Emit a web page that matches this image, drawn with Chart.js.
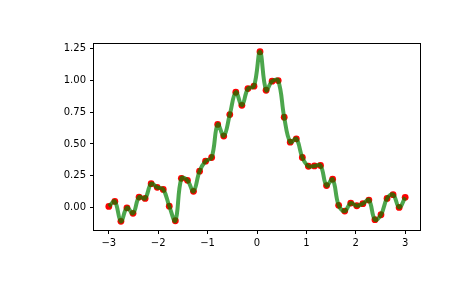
<!DOCTYPE html>
<html>
<head>
<meta charset="utf-8">
<script src="https://cdn.jsdelivr.net/npm/chart.js@4/dist/chart.umd.min.js"></script>
<style>
  html, body { margin: 0; padding: 0; background: #fff; }
  #wrap { width: 465px; height: 288px; }
</style>
</head>
<body>
<div id="wrap"><canvas id="grafico" width="465" height="288"></canvas></div>
<script>
// x positions: 50 samples between -3 and 3
const xVals = [
  -3.000, -2.878, -2.755, -2.633, -2.510, -2.388, -2.265, -2.143, -2.020, -1.898,
  -1.776, -1.653, -1.531, -1.408, -1.286, -1.163, -1.041, -0.918, -0.796, -0.673,
  -0.551, -0.429, -0.306, -0.184, -0.061,  0.061,  0.184,  0.306,  0.429,  0.551,
   0.673,  0.796,  0.918,  1.041,  1.163,  1.286,  1.408,  1.531,  1.653,  1.776,
   1.898,  2.020,  2.143,  2.265,  2.388,  2.510,  2.633,  2.755,  2.878,  3.000
];

// y values
const yVals = [
   0.008,  0.047, -0.110, -0.003, -0.047,  0.081,  0.071,  0.187,  0.158,  0.142,
   0.010, -0.105,  0.229,  0.213,  0.127,  0.285,  0.364,  0.393,  0.654,  0.562,
   0.731,  0.907,  0.804,  0.936,  0.955,  1.226,  0.923,  0.994,  0.999,  0.710,
   0.514,  0.540,  0.393,  0.324,  0.327,  0.330,  0.172,  0.222,  0.016, -0.029,
   0.034,  0.013,  0.029,  0.058, -0.097, -0.058,  0.071,  0.100,  0.000,  0.079
];

const xTicks = [-3, -2, -1, 0, 1, 2, 3];
const yTicks = [0.00, 0.25, 0.50, 0.75, 1.00, 1.25];

const puntos = xVals.map((x, i) => ({ x: x, y: yVals[i] }));

// caja negra alrededor del area
const marco = {
  id: 'marco',
  afterDraw(chart) {
    const a = chart.chartArea;
    const c = chart.ctx;
    c.save();
    c.strokeStyle = '#000';
    c.lineWidth = 1;
    c.strokeRect(Math.round(a.left) - 0.5, Math.round(a.top) + 0.5,
                 Math.round(a.right - a.left) + 1, Math.round(a.bottom - a.top));
    c.restore();
  }
};

const menos = v => String(v).replace('-', '\u2212');

const ctx = document.getElementById('grafico').getContext('2d');
const grafico = new Chart(ctx, {
  type: 'scatter',
  data: {
    datasets: [
      {
        label: 'spline',
        data: puntos,
        showLine: true,
        borderColor: 'rgba(0, 128, 0, 0.7)',
        borderWidth: 4,
        tension: 0.4,
        pointRadius: 0,
        pointHoverRadius: 0
      },
      {
        label: 'datos',
        data: puntos,
        backgroundColor: '#ff0000',
        borderColor: '#ff0000',
        borderWidth: 0,
        pointRadius: 3.4
      }
    ]
  },
  options: {
    responsive: false,
    animation: false,
    events: [],
    layout: { padding: { left: 0, top: 43, right: 45, bottom: 0 } },
    plugins: {
      legend: { display: false },
      tooltip: { enabled: false }
    },
    scales: {
      x: {
        type: 'linear',
        min: -3.3,
        max: 3.3,
        afterFit: s => { s.height = 58; },
        afterBuildTicks: s => { s.ticks = xTicks.map(v => ({ value: v })); },
        grid: { drawOnChartArea: false, drawTicks: true, tickLength: 4, color: '#000' },
        border: { display: false },
        ticks: {
          color: '#000',
          padding: 3,
          maxRotation: 0,
          font: { family: 'DejaVu Sans', size: 10 },
          callback: v => menos(v)
        }
      },
      y: {
        type: 'linear',
        min: -0.178,
        max: 1.295,
        afterFit: s => { s.width = 94; },
        afterBuildTicks: s => { s.ticks = yTicks.map(v => ({ value: v })); },
        grid: { drawOnChartArea: false, drawTicks: true, tickLength: 4, color: '#000' },
        border: { display: false },
        ticks: {
          color: '#000',
          padding: 4,
          font: { family: 'DejaVu Sans', size: 10 },
          callback: v => v.toFixed(2)
        }
      }
    }
  },
  plugins: [marco]
});
</script>
</body>
</html>
